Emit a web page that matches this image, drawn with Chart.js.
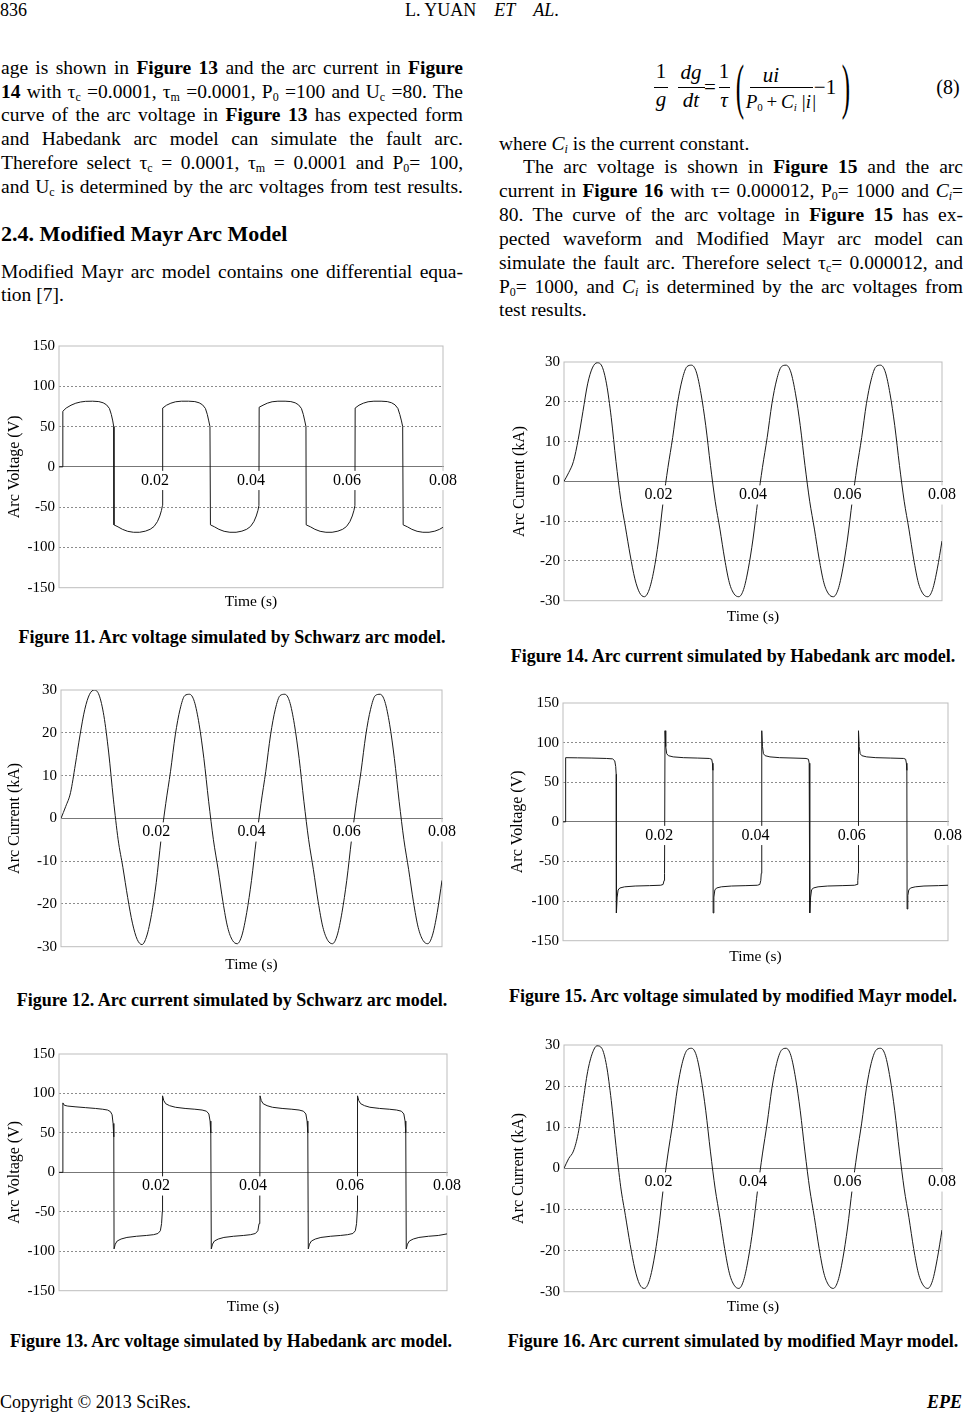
<!DOCTYPE html>
<html>
<head>
<meta charset="utf-8">
<script src="https://cdn.jsdelivr.net/npm/chart.js@4.4.0/dist/chart.umd.min.js"></script>
<style>
  body { margin: 0; background: #fff; }
  #page { position: relative; width: 965px; height: 1414px; overflow: hidden;
          font-family: 'Liberation Serif', 'Times New Roman', serif; color: #000; }
  .ln { position: absolute; height: 24px; line-height: 24px; font-size: 19.5px; white-space: nowrap; }
  .j { text-align: justify; text-align-last: justify; }
  sub { font-size: 12px; line-height: 0; vertical-align: -3px; }
  .cap { position: absolute; width: 500px; font-weight: bold; font-size: 18px; line-height: 24px;
         text-align: center; white-space: nowrap; }
  .m { position: absolute; transform: translate(-50%, -50%); font-size: 21px; line-height: 21px;
       font-style: italic; white-space: nowrap; }
  .up { font-style: normal; }
  .bar { position: absolute; border-top: 1px solid #000; height: 0; }
  canvas { position: absolute; }
</style>
</head>
<body>
<div id="page">
  <!-- header -->
  <div class="ln" style="left:0;top:-2px;font-size:18px">836</div>
  <div class="ln" style="left:405px;top:-2px;font-size:18px">L. YUAN&nbsp;&nbsp;&nbsp; <i>ET</i>&nbsp;&nbsp;&nbsp; <i>AL</i>.</div>

  <!-- left column text -->
  <div class="ln j" style="left:1px;top:56px;width:462px">age is shown in <b>Figure 13</b> and the arc current in <b>Figure</b></div>
  <div class="ln j" style="left:1px;top:80px;width:462px"><b>14</b> with τ<sub>c</sub> =0.0001, τ<sub>m</sub> =0.0001, P<sub>0</sub> =100 and U<sub>c</sub> =80. The</div>
  <div class="ln j" style="left:1px;top:103px;width:462px">curve of the arc voltage in <b>Figure 13</b> has expected form</div>
  <div class="ln j" style="left:1px;top:127px;width:462px">and Habedank arc model can simulate the fault arc.</div>
  <div class="ln j" style="left:1px;top:151px;width:462px">Therefore select τ<sub>c</sub> = 0.0001, τ<sub>m</sub> = 0.0001 and P<sub>0</sub>= 100,</div>
  <div class="ln j" style="left:1px;top:175px;width:462px">and U<sub>c</sub> is determined by the arc voltages from test results.</div>
  <div class="ln" style="left:1px;top:221px;height:26px;line-height:26px;font-size:22px;font-weight:bold">2.4. Modified Mayr Arc Model</div>
  <div class="ln j" style="left:1px;top:260px;width:462px">Modified Mayr arc model contains one differential equa-</div>
  <div class="ln" style="left:1px;top:283px">tion [7].</div>

  <!-- equation (8) -->
  <span class="m up" style="left:661px;top:71px">1</span>
  <div class="bar" style="left:654px;top:87px;width:14px"></div>
  <span class="m" style="left:661px;top:99px">g</span>
  <span class="m" style="left:691px;top:72px">dg</span>
  <div class="bar" style="left:678px;top:87px;width:27px"></div>
  <span class="m" style="left:691px;top:100px">dt</span>
  <span class="m up" style="left:710px;top:87px">=</span>
  <span class="m up" style="left:724px;top:71px">1</span>
  <div class="bar" style="left:719px;top:87px;width:11px"></div>
  <span class="m" style="left:724px;top:100px">τ</span>
  <span class="m up" style="left:740px;top:86px;font-size:25px;transform:translate(-50%,-50%) scale(1,2.45)">(</span>
  <span class="m" style="left:771px;top:75px">ui</span>
  <div class="bar" style="left:750px;top:87px;width:63px"></div>
  <span class="m" style="left:781px;top:101px;font-size:19px">P<sub class="up" style="font-size:11px">0</sub><span class="up">&thinsp;+&thinsp;</span>C<sub style="font-size:11px">i</sub>&thinsp;|i|</span>
  <span class="m up" style="left:825px;top:87px">−1</span>
  <span class="m up" style="left:846px;top:86px;font-size:25px;transform:translate(-50%,-50%) scale(1,2.45)">)</span>
  <span class="m up" style="left:948px;top:87px;font-size:20px">(8)</span>

  <!-- right column text -->
  <div class="ln" style="left:499px;top:132px">where <i>C<sub>i</sub></i> is the current constant.</div>
  <div class="ln j" style="left:523px;top:155px;width:440px">The arc voltage is shown in <b>Figure 15</b> and the arc</div>
  <div class="ln j" style="left:499px;top:179px;width:464px">current in <b>Figure 16</b> with τ= 0.000012, P<sub>0</sub>= 1000 and <i>C<sub>i</sub></i>=</div>
  <div class="ln j" style="left:499px;top:203px;width:464px">80. The curve of the arc voltage in <b>Figure 15</b> has ex-</div>
  <div class="ln j" style="left:499px;top:227px;width:464px">pected waveform and Modified Mayr arc model can</div>
  <div class="ln j" style="left:499px;top:251px;width:464px">simulate the fault arc. Therefore select τ<sub>c</sub>= 0.000012, and</div>
  <div class="ln j" style="left:499px;top:275px;width:464px">P<sub>0</sub>= 1000, and <i>C<sub>i</sub></i> is determined by the arc voltages from</div>
  <div class="ln" style="left:499px;top:298px">test results.</div>

  <!-- charts -->
  <canvas id="f11"></canvas>
  <canvas id="f12"></canvas>
  <canvas id="f13"></canvas>
  <canvas id="f14"></canvas>
  <canvas id="f15"></canvas>
  <canvas id="f16"></canvas>

  <!-- captions -->
  <div class="cap" style="left:-18px;top:625px">Figure 11. Arc voltage simulated by Schwarz arc model.</div>
  <div class="cap" style="left:-18px;top:988px">Figure 12. Arc current simulated by Schwarz arc model.</div>
  <div class="cap" style="left:-19px;top:1329px">Figure 13. Arc voltage simulated by Habedank arc model.</div>
  <div class="cap" style="left:483px;top:644px">Figure 14. Arc current simulated by Habedank arc model.</div>
  <div class="cap" style="left:483px;top:984px">Figure 15. Arc voltage simulated by modified Mayr model.</div>
  <div class="cap" style="left:483px;top:1329px">Figure 16. Arc current simulated by modified Mayr model.</div>

  <!-- footer -->
  <div class="ln" style="left:0;top:1390px;font-size:18px">Copyright © 2013 SciRes.</div>
  <div class="ln" style="left:900px;top:1390px;width:62px;text-align:right;font-size:18px;font-weight:bold;font-style:italic">EPE</div>
</div>

<script>
// time axis ticks (s) and value ticks
var timeTicks = [0.02, 0.04, 0.06, 0.08];
var voltTicks = [-150, -100, -50, 0, 50, 100, 150];
var curTicks = [-30, -20, -10, 0, 10, 20, 30];

// sample times for the current curves (ms)
var curTime = [0,1,2,3,4,5,6,7,8,9,10,11,12,13,14,15,16,17,18,19,20,
  21,22,23,24,25,26,27,28,29,30,31,32,33,34,35,36,37,38,39,40,
  41,42,43,44,45,46,47,48,49,50,51,52,53,54,55,56,57,58,59,60,
  61,62,63,64,65,66,67,68,69,70,71,72,73,74,75,76,77,78,79,80];

// Fig 12 - arc current, Schwarz model (kA)
var curSchwarz = [0,2.8,6,12.5,19.5,25.5,29,30,28.8,24,15.5,4.5,-5,-11.5,-18.5,-24.5,-28.3,-29.5,-27.5,-22.5,-15,
  -5,3.5,11,19.5,25.5,28.7,29,27.3,22,14,4,-5,-12,-19.5,-25.5,-28.5,-29.3,-27.3,-22,-14.5,
  -5,3.5,11,19.5,25.5,28.7,29,27.3,22,14,4,-5,-12,-19.5,-25.5,-28.5,-29.3,-27.3,-22,-14.5,
  -5,3.5,11,19.5,25.5,28.7,29,27.3,22,14,4,-5,-12,-19.5,-25.5,-28.5,-29.3,-27.3,-22,-14.5];

// Fig 14 - arc current, Habedank model (kA)
var curHabedank = [0,2.2,5,10.5,17.5,24.5,28.5,29.8,29,24.5,16,5,-4.5,-11.5,-18.5,-24.5,-28,-29,-27.3,-22.5,-15,
  -5,3.5,11,19.5,25.5,28.8,29.2,27.5,22,14,4,-5,-12,-19.5,-25.5,-28.3,-29,-27.2,-22,-14.5,
  -5,3.5,11,19.5,25.5,28.8,29.2,27.5,22,14,4,-5,-12,-19.5,-25.5,-28.3,-29,-27.2,-22,-14.5,
  -5,3.5,11,19.5,25.5,28.8,29.2,27.5,22,14,4,-5,-12,-19.5,-25.5,-28.3,-29,-27.2,-22,-15];

// Fig 16 - arc current, modified Mayr model (kA)
var curMayr = [0,2.4,4.2,8.5,16,23.5,28,29.8,29.2,25,16.5,5.5,-4.5,-11.5,-18.5,-24.5,-28.2,-29.2,-27.5,-22.5,-15,
  -5,3.5,11,19.5,25.5,28.7,29.2,27.5,22,14,4,-5,-12,-19.5,-25.5,-28.4,-29.2,-27.3,-22,-14.5,
  -5,3.5,11,19.5,25.5,28.7,29.2,27.5,22,14,4,-5,-12,-19.5,-25.5,-28.4,-29.2,-27.3,-22,-14.5,
  -5,3.5,11,19.5,25.5,28.7,29.2,27.5,22,14,4,-5,-12,-19.5,-25.5,-28.4,-29.2,-27.3,-22,-15];

// Fig 11 - arc voltage, Schwarz model: [ms, V]
var voltSchwarz = [[0,0],[0.8,0],[0.8,69],[1.5,73],[2.5,76.5],[3.5,79],[4.5,80.5],[5.5,81.3],[7,81.5],[8.3,81],[9.2,79.5],[9.9,77],[10.5,72.5],[10.9,65],[11.2,57],[11.4,50],[11.45,-72],
  [12.3,-74.5],[13.2,-77.5],[14.3,-80],[15.5,-81.2],[16.8,-81.2],[18,-79.8],[19,-77.5],[19.8,-74],[20.5,-68],[21,-61],[21.35,-54],[21.55,-48],[21.6,73],
  [22.4,76.5],[23.3,79],[24.3,80.8],[25.5,81.5],[27,81.5],[28.3,81],[29.2,79.5],[29.9,77],[30.5,72.5],[30.9,65],[31.2,57],[31.45,50],[31.55,-72],
  [32.4,-74.5],[33.3,-77.5],[34.4,-80],[35.6,-81.2],[36.9,-81.2],[38.1,-79.8],[39.1,-77.5],[39.9,-74],[40.6,-68],[41.1,-61],[41.45,-54],[41.65,-48],[41.7,74],
  [42.5,76.5],[43.4,79],[44.4,80.8],[45.6,81.5],[47.1,81.5],[48.3,81],[49.2,79.5],[49.9,77],[50.5,72.5],[50.9,65],[51.2,57],[51.45,50],[51.5,-72],
  [52.4,-74.5],[53.3,-77.5],[54.4,-80],[55.6,-81.2],[56.9,-81.2],[58.1,-79.8],[59.1,-77.5],[59.9,-74],[60.6,-68],[61.1,-61],[61.45,-54],[61.65,-48],[61.7,73],
  [62.5,76.5],[63.4,79],[64.4,80.8],[65.6,81.5],[67.1,81.5],[68.4,81],[69.3,79.5],[70,77],[70.6,72.5],[71,65],[71.35,57],[71.6,50],[71.7,-72],
  [72.6,-74.5],[73.5,-77.5],[74.6,-80],[75.8,-81.2],[77.1,-81.2],[78.3,-79.8],[79.3,-77.5],[80,-75]];

// Fig 13 - arc voltage, Habedank model: [ms, V]
var voltHabedank = [[0,0],[0.8,0],[0.8,88],[1.1,85],[1.8,84],[3.5,83],[5.5,82],[7.5,81],[9,80],[10,79],[10.6,77],[10.95,73],[11.15,62],[11.3,45],[11.35,-97],
  [11.6,-91],[12,-87],[12.8,-84.5],[14,-82.5],[16,-81],[18,-80],[19.5,-79],[20.4,-77.5],[20.9,-74],[21.15,-65],[21.3,-50],[21.35,97],
  [21.6,91],[22,87],[22.8,84.5],[24,82.5],[26,81],[28,80],[29.5,79],[30.4,77.5],[30.9,74],[31.15,65],[31.3,50],[31.4,-97],
  [31.65,-91],[32.05,-87],[32.85,-84.5],[34,-82.5],[36,-81],[38,-80],[39.5,-79],[40.5,-77.5],[41,-74],[41.25,-65],[41.4,-50],[41.45,97],
  [41.7,91],[42.1,87],[42.9,84.5],[44,82.5],[46,81],[48,80],[49.5,79],[50.4,77.5],[50.9,74],[51.15,65],[51.3,50],[51.4,-97],
  [51.65,-91],[52.05,-87],[52.85,-84.5],[54,-82.5],[56,-81],[58,-80],[59.5,-79],[60.6,-77.5],[61.1,-74],[61.35,-65],[61.5,-50],[61.55,97],
  [61.8,91],[62.2,87],[63,84.5],[64.1,82.5],[66.1,81],[68.1,80],[69.6,79],[70.6,77.5],[71.1,74],[71.35,65],[71.5,50],[71.6,-97],
  [71.85,-91],[72.25,-87],[73.05,-84.5],[74.2,-82.5],[76.2,-81],[78.2,-80],[80,-78]];

// Fig 15 - arc voltage, modified Mayr model: [ms, V]
var voltMayr = [[0,0],[0.55,0],[0.55,81],[3,80.8],[6,80.5],[9,80],[10.3,79.5],[10.75,77],[10.95,70],[11.05,60],[11.1,-115],
  [11.25,-95],[11.45,-86],[11.8,-83.5],[12.8,-82],[15,-81],[18,-80.5],[20.3,-80],[20.8,-79],[21,-74],[21.1,-65],[21.2,115],
  [21.35,95],[21.55,86],[21.9,83.5],[22.9,82],[25,81],[28,80.5],[30.4,80],[30.9,79],[31.05,74],[31.15,65],[31.2,-115],
  [31.35,-95],[31.55,-86],[31.9,-83.5],[32.9,-82],[35,-81],[38,-80.5],[40.4,-80],[40.9,-79],[41.1,-74],[41.2,-65],[41.3,115],
  [41.45,95],[41.65,86],[42,83.5],[43,82],[45,81],[48,80.5],[50.5,80],[51,79],[51.15,74],[51.25,65],[51.3,-115],
  [51.45,-95],[51.65,-86],[52,-83.5],[53,-82],[55,-81],[58,-80.5],[60.6,-80],[61.1,-79],[61.25,-74],[61.35,-65],[61.4,115],
  [61.55,95],[61.75,86],[62.1,83.5],[63.1,82],[65,81],[68,80.5],[70.8,80],[71.2,79],[71.35,74],[71.45,65],[71.5,-110],
  [71.65,-93],[71.85,-86],[72.2,-83.5],[73.2,-82],[75,-81],[78,-80.5],[80,-80]];

var serif = 'Liberation Serif';

// light grey frame round the plot area
var framePlugin = {
  id: 'frame',
  beforeDatasetsDraw: function(chart) {
    var a = chart.chartArea, ctx = chart.ctx;
    ctx.save();
    ctx.strokeStyle = '#bdbdbd';
    ctx.lineWidth = 1;
    ctx.strokeRect(a.left, a.top, a.right - a.left, a.bottom - a.top);
    ctx.restore();
  }
};

function pairsToPoints(p) {
  return p.map(function(d) { return {x: d[0] / 1000, y: d[1]}; });
}
function seriesToPoints(t, v) {
  return t.map(function(ms, i) { return {x: ms / 1000, y: v[i]}; });
}

// box: page position of the plot area, x0 = left edge of the canvas
function arcChart(id, box, yTicks, yTitle, points, smooth) {
  var padTop = 12, padRight = 18, padBottom = 3;
  var lh = 15.5 * 1.2;
  var titlePad = box.tg - lh / 2;
  var W = box.r - box.x0 + padRight;
  var H = Math.round(padTop + (box.b - box.t) + titlePad + lh + padBottom);
  var cv = document.getElementById(id);
  cv.width = W; cv.height = H;
  cv.style.left = box.x0 + 'px';
  cv.style.top = (box.t - padTop) + 'px';
  var yMax = yTicks[yTicks.length - 1];

  return new Chart(cv, {
    type: 'scatter',
    data: {
      datasets: [{
        data: points,
        showLine: true,
        borderColor: '#1a1a1a',
        borderWidth: 1,
        pointRadius: 0,
        tension: 0,
        cubicInterpolationMode: smooth ? 'monotone' : 'default'
      }]
    },
    options: {
      responsive: false,
      animation: false,
      layout: { padding: { left: 0, top: padTop, right: padRight, bottom: padBottom } },
      plugins: {
        legend: { display: false },
        tooltip: { enabled: false },
        title: {
          display: true, text: 'Time (s)', position: 'bottom', fullSize: false,
          color: '#000', font: { family: serif, size: 15.5, weight: 'normal' },
          padding: { top: titlePad, bottom: 0 }
        }
      },
      scales: {
        x: {
          type: 'linear', min: 0, max: 0.08,
          position: { y: 0 },
          afterBuildTicks: function(s) { s.ticks = timeTicks.map(function(v) { return {value: v}; }); },
          grid: { drawOnChartArea: false, drawTicks: false },
          border: { color: '#777', width: 1 },
          ticks: {
            z: 1, padding: 4, maxRotation: 0, autoSkip: false, color: '#000',
            font: { family: serif, size: 16 },
            showLabelBackdrop: true, backdropColor: '#fff', backdropPadding: { top: 0, bottom: 0, left: 1, right: 1 },
            callback: function(v) { return v.toFixed(2); }
          }
        },
        y: {
          min: -yMax, max: yMax, position: 'left',
          afterFit: function(s) { s.width = box.l - box.x0; },
          afterBuildTicks: function(s) { s.ticks = yTicks.map(function(v) { return {value: v}; }); },
          grid: {
            drawTicks: false, lineWidth: 1,
            color: function(c) {
              var v = c.tick ? c.tick.value : null;
              return (v === 0 || Math.abs(v) === yMax) ? 'rgba(0,0,0,0)' : '#8c8c8c';
            }
          },
          border: { display: false, dash: [2, 2] },
          ticks: { padding: 4, color: '#000', font: { family: serif, size: 15 },
                   callback: function(v) { return String(v); } },
          title: { display: true, text: yTitle, color: '#000',
                   font: { family: serif, size: 16 }, padding: { top: box.tp, bottom: 0 } }
        }
      }
    },
    plugins: [framePlugin]
  });
}

arcChart('f11', {x0: 0, l: 59, r: 443, t: 345, b: 588, tg: 14, tp: 5.5}, voltTicks, 'Arc Voltage (V)', pairsToPoints(voltSchwarz), false);
arcChart('f12', {x0: 0, l: 61, r: 442, t: 689, b: 947, tg: 18, tp: 5.5}, curTicks, 'Arc Current (kA)', seriesToPoints(curTime, curSchwarz), true);
arcChart('f13', {x0: 0, l: 59, r: 447, t: 1053, b: 1291, tg: 16, tp: 5.5}, voltTicks, 'Arc Voltage (V)', pairsToPoints(voltHabedank), false);
arcChart('f14', {x0: 505, l: 564, r: 942, t: 361, b: 601, tg: 16, tp: 5.5}, curTicks, 'Arc Current (kA)', seriesToPoints(curTime, curHabedank), true);
arcChart('f15', {x0: 505, l: 563, r: 948, t: 702, b: 941, tg: 16, tp: 3}, voltTicks, 'Arc Voltage (V)', pairsToPoints(voltMayr), false);
arcChart('f16', {x0: 505, l: 564, r: 942, t: 1044, b: 1292, tg: 15, tp: 4.5}, curTicks, 'Arc Current (kA)', seriesToPoints(curTime, curMayr), true);
</script>
</body>
</html>
